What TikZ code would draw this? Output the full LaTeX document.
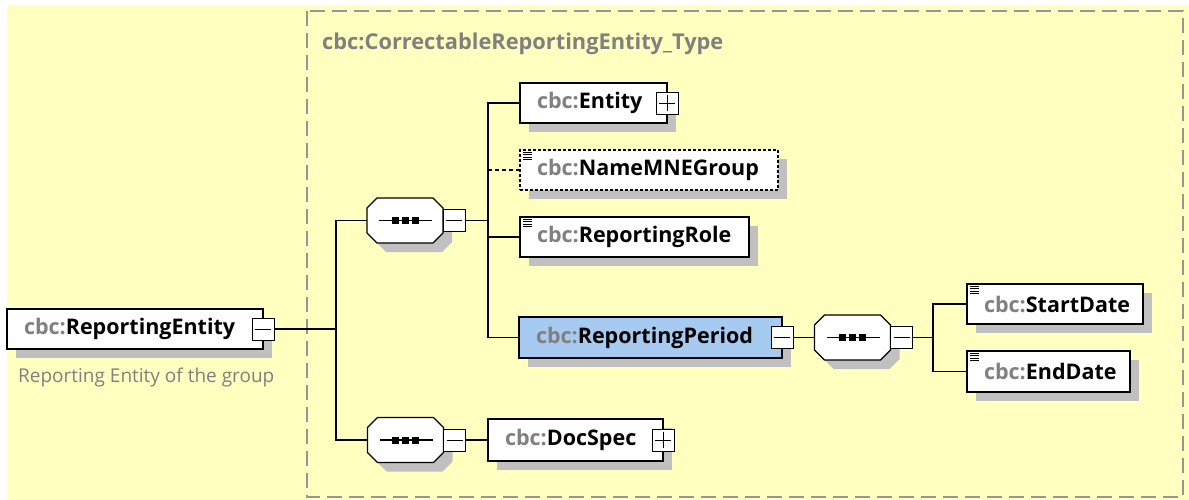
\documentclass[tikz,border=0pt]{standalone}
\usepackage{fontspec}
\setmainfont{Open Sans}
\usetikzlibrary{shadows,calc}
\definecolor{bg}{RGB}{255,255,192}
\definecolor{shadowgray}{RGB}{192,192,192}
\definecolor{pfx}{RGB}{128,128,128}
\definecolor{selblue}{RGB}{166,202,240}
\definecolor{dashgray}{RGB}{150,150,150}
\newcommand\pf{\textcolor{pfx}{cbc:}}
\newcommand\elfont{\bfseries\fontsize{21.5}{24}\selectfont}
\tikzset{
  elem/.style={draw=black, line width=1.3pt, fill=white, minimum height=40pt,
    inner xsep=17pt, inner ysep=0pt, outer sep=0pt, align=left, anchor=north west, font=\elfont,
    general shadow={fill=shadowgray, shadow xshift=9pt, shadow yshift=-9pt}},
  pmbox/.style={draw=black, line width=0.9pt, fill=white, minimum width=22pt,
    minimum height=22pt, inner sep=0pt, outer sep=0pt},
  minusbox/.style={pmbox, path picture={
    \draw[line width=0.9pt] ([xshift=3pt]path picture bounding box.west) -- ([xshift=-3pt]path picture bounding box.east);}},
  plusbox/.style={pmbox, path picture={
    \draw[line width=0.9pt] ([xshift=3pt]path picture bounding box.west) -- ([xshift=-3pt]path picture bounding box.east);
    \draw[line width=0.9pt] ([yshift=-3pt]path picture bounding box.north) -- ([yshift=3pt]path picture bounding box.south);}},
  seqnode/.style={rectangle, minimum width=76pt, minimum height=45pt, inner sep=0pt, outer sep=0pt},
  conn/.style={line width=1.2pt, draw=black},
}
\newcommand\octpath{(-28,-22.5) -- (28,-22.5) -- (38,-12.5) -- (38,12.5) -- (28,22.5) -- (-28,22.5) -- (-38,12.5) -- (-38,-12.5) -- cycle}
\newcommand\seqsym[2]{%
  \node[seqnode] (#1) at (#2) {};
  \begin{scope}[shift={(#1.center)}]
    \fill[shadowgray] [shift={(9,9)}] \octpath;
    \draw[line width=1.2pt, fill=white] \octpath;
    \draw[line width=1.1pt] (-26,0) -- (27,0);
    \fill (-13.5,-3.5) rectangle (-6.5,3.5);
    \fill (-3.5,-3.5) rectangle (3.5,3.5);
    \fill (6.5,-3.5) rectangle (13.5,3.5);
  \end{scope}
  \node[minusbox, anchor=west] (#1m) at (#1.east) {};
}
\newcommand\docicon[1]{%
  \foreach \k in {0,1,2,3} {\draw[line width=0.8pt] ($(#1.north west)+(3,2.5+2.3*\k)$) -- ++(9,0);}
}
\begin{document}
\begin{tikzpicture}[x=1pt,y=-1pt]
\useasboundingbox (0,0) rectangle (1189,500);
\fill[white] (0,0) rectangle (1189,500);
\fill[bg] (7,5) rectangle (1189,500);
\draw[dashgray, line width=1.4pt, dash pattern=on 15pt off 7pt] (307,11) rectangle (1183,497);
\node[anchor=west, font=\bfseries\fontsize{21.8}{24}\selectfont, text=pfx, inner sep=0pt] (title) at (322,44) {cbc:CorrectableReportingEntity\_Type};

% elements
\node[elem, text width=222pt] (re) at (7,309) {\mbox{\pf ReportingEntity}};
\node[anchor=west, font=\fontsize{19}{22}\selectfont, text=pfx, inner sep=0pt] (redesc) at (18,378) {Reporting Entity of the group};
\node[minusbox] (rem) at (re.east) {};

\seqsym{seqa}{405,220.5}
\seqsym{seqb}{852.5,337.5}
\seqsym{seqc}{405.5,440}

\node[elem, text width=113pt] (entity) at (520,83) {\mbox{\pf Entity}};
\node[plusbox] (entityp) at (entity.east) {};
\node[elem, text width=224pt, dashed, dash pattern=on 3pt off 2pt] (name) at (520,150) {\mbox{\pf NameMNEGroup}};
\docicon{name}
\node[elem, text width=195pt] (role) at (520,217) {\mbox{\pf ReportingRole}};
\docicon{role}
\node[elem, text width=229pt, fill=selblue, minimum height=41pt] (period) at (519,317) {\mbox{\pf ReportingPeriod}};
\node[minusbox] (periodm) at (period.east) {};
\node[elem, text width=142pt] (start) at (967,284) {\mbox{\pf StartDate}};
\docicon{start}
\node[elem, text width=129pt, minimum height=41pt] (end) at (967,351) {\mbox{\pf EndDate}};
\docicon{end}
\node[elem, text width=141pt, minimum height=42pt] (doc) at (488,419) {\mbox{\pf DocSpec}};
\node[plusbox] (docp) at (doc.east) {};

% connectors
\coordinate (ja) at (336,329);
\coordinate (jb) at (488,220.5);
\coordinate (jc) at (933,337.5);
\draw[conn] (rem.east) -- (ja);
\draw[conn] (seqa.west) -| (ja) |- (seqc.west);
\draw[conn] (seqam.east) -- (jb);
\draw[conn] (entity.west) -| (jb) |- (period.west);
\draw[conn] (role.west) -- (role.west -| jb);
\draw[conn, dashed, dash pattern=on 4pt off 3pt] (name.west) -- (name.west -| jb);
\draw[conn] (seqcm.east) -- (doc.west);
\draw[conn] (periodm.east) -- (seqb.west);
\draw[conn] (seqbm.east) -- (jc);
\draw[conn] (start.west) -| (jc) |- (end.west);
\end{tikzpicture}
\end{document}
